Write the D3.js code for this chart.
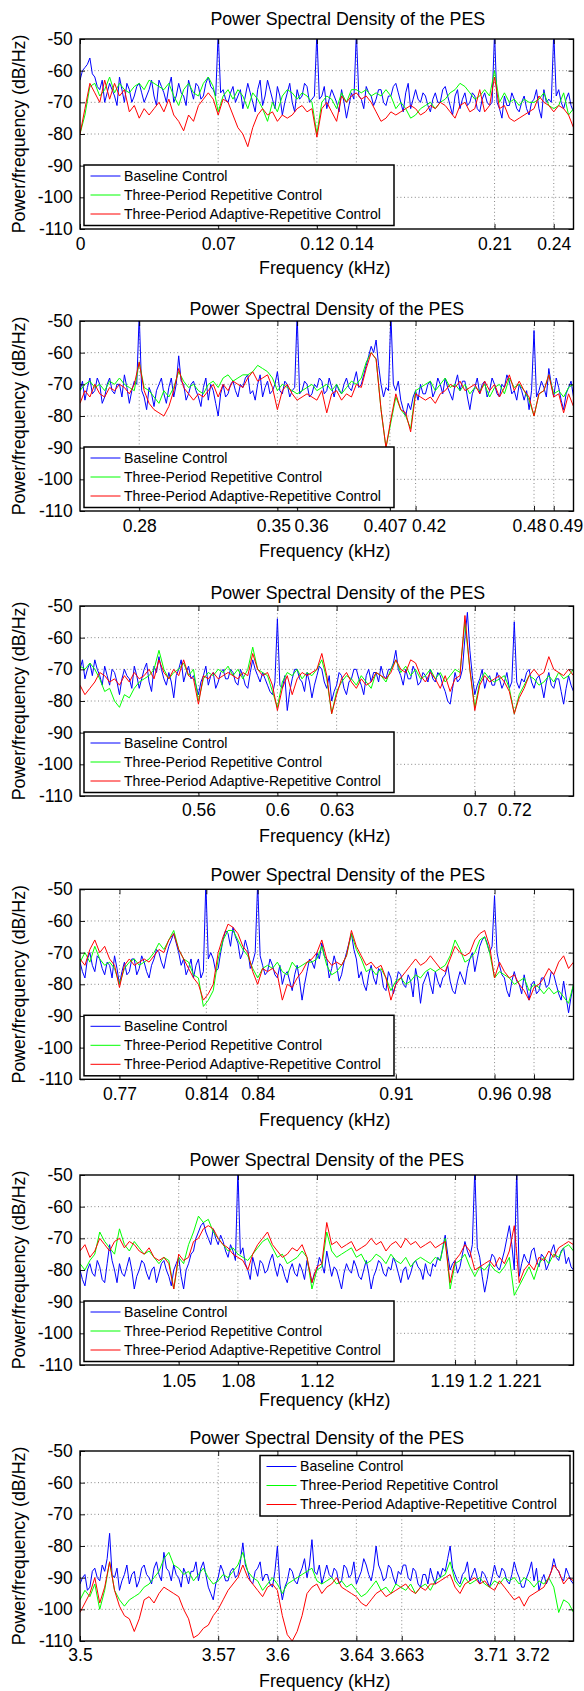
<!DOCTYPE html>
<html><head><meta charset="utf-8">
<script src="https://cdn.jsdelivr.net/npm/d3@7"></script>
<style>
body{margin:0;background:#fff}
svg{display:block}
text{font-family:"Liberation Sans",Arial,Helvetica,sans-serif;fill:#000}
</style>
</head><body>
<svg id="chart" width="584" height="1691"></svg>
<script>
// ---------------- DATA ----------------
const titleText = "Power Spectral Density of the PES";
const xLabelText = "Frequency (kHz)";
const yLabelText = "Power/frequency (dB/Hz)";
const seriesNames = ["Baseline Control", "Three-Period Repetitive Control", "Three-Period Adaptive-Repetitive Control"];
const baselineBinWidth = 0.00125; // kHz between baseline samples
const binWidth = 0.0025;          // kHz between repetitive / adaptive samples
const panelSpan = 0.25;           // kHz per panel
const panelStarts = [0, 0.25, 0.5, 0.75, 1.0, 3.5];
const yTicks = [-50, -60, -70, -80, -90, -100, -110];

const xTicks1 = [0, 0.07, 0.12, 0.14, 0.21, 0.24];
const xTickLabels1 = ["0", "0.07", "0.12", "0.14", "0.21", "0.24"];
const xTicks2 = [0.28, 0.35, 0.36, 0.407, 0.42, 0.48, 0.49];
const xTickLabels2 = ["0.28", "0.35", "0.36", "0.407", "0.42", "0.48", "0.49"];
const xTicks3 = [0.56, 0.6, 0.63, 0.7, 0.72];
const xTickLabels3 = ["0.56", "0.6", "0.63", "0.7", "0.72"];
const xTicks4 = [0.77, 0.814, 0.84, 0.91, 0.96, 0.98];
const xTickLabels4 = ["0.77", "0.814", "0.84", "0.91", "0.96", "0.98"];
const xTicks5 = [1.05, 1.08, 1.12, 1.19, 1.2, 1.221];
const xTickLabels5 = ["1.05", "1.08", "1.12", "1.19", "1.2", "1.221"];
const xTicks6 = [3.5, 3.57, 3.6, 3.64, 3.663, 3.71, 3.72];
const xTickLabels6 = ["3.5", "3.57", "3.6", "3.64", "3.663", "3.71", "3.72"];

// Panel 1: 0 - 0.25 kHz
const baseline1 = [-63,-60,-59,-58,-56,-61,-62,-65,-66,-63,-70,-67,-64,-66,-68,-71,-62,-66,-70,-64,
 -66,-70,-68,-65,-64,-67,-70,-68,-66,-63,-68,-71,-63,-65,-67,-70,-65,-62,-70,-68,
 -64,-67,-68,-71,-63,-66,-69,-64,-65,-69,-68,-64,-62,-65,-66,-68,-48,-67,-66,-69,
 -70,-67,-65,-70,-68,-66,-72,-68,-64,-67,-70,-73,-66,-63,-71,-68,-63,-66,-69,-72,
 -65,-68,-74,-70,-67,-64,-70,-73,-66,-69,-68,-64,-65,-70,-69,-68,-48,-69,-68,-65,
 -72,-69,-66,-68,-70,-73,-66,-70,-75,-71,-67,-69,-48,-68,-69,-72,-65,-67,-68,-71,
 -69,-66,-66,-70,-71,-68,-68,-65,-64,-67,-70,-73,-67,-64,-72,-69,-66,-69,-70,-67,
 -68,-71,-73,-69,-67,-70,-70,-66,-65,-68,-71,-74,-68,-66,-72,-69,-67,-71,-70,-67,
 -68,-72,-73,-69,-67,-70,-71,-70,-48,-70,-72,-75,-68,-71,-71,-67,-69,-72,-73,-70,
 -68,-72,-74,-70,-69,-66,-72,-75,-66,-70,-69,-70,-48,-68,-66,-70,-72,-69,-67,-71,
 -73];
const repetitive1 = [-80,-74,-65,-64,-68,-66,-62,-67,-64,-66,
 -67,-65,-64,-66,-63,-64,-65,-66,-64,-68,
 -71,-66,-64,-67,-68,-64,-62,-65,-73,-68,
 -66,-69,-66,-68,-72,-67,-69,-72,-76,-70,
 -73,-68,-66,-67,-69,-67,-68,-70,-80,-70,
 -68,-69,-72,-67,-70,-66,-66,-67,-66,-68,
 -67,-68,-66,-68,-72,-70,-72,-75,-74,-72,
 -71,-70,-72,-70,-69,-67,-66,-64,-65,-67,
 -69,-68,-66,-68,-60,-70,-67,-70,-69,-71,
 -69,-70,-70,-69,-67,-71,-72,-71,-67,-74,
 -72];
const adaptive1 = [-80,-72,-64,-67,-70,-63,-69,-64,-68,-66,
 -73,-71,-75,-72,-74,-72,-70,-73,-69,-74,
 -76,-79,-74,-76,-71,-69,-67,-69,-74,-69,
 -70,-74,-78,-80,-84,-78,-74,-72,-74,-73,
 -76,-74,-75,-74,-72,-71,-73,-72,-81,-72,
 -70,-73,-76,-68,-70,-68,-67,-69,-68,-70,
 -73,-76,-75,-73,-74,-73,-72,-71,-72,-74,
 -73,-71,-72,-70,-71,-73,-75,-71,-70,-73,
 -72,-66,-73,-71,-62,-72,-71,-75,-76,-75,
 -74,-73,-72,-68,-70,-71,-73,-71,-72,-74,
 -78];

// Panel 2: 0.25 - 0.50 kHz
const baseline2 = [-72,-69,-75,-71,-68,-73,-72,-68,-70,-76,-74,-70,-68,-72,-73,-70,-70,-74,-67,-71,
 -76,-72,-69,-70,-48,-72,-74,-78,-71,-73,-77,-72,-70,-68,-73,-76,-71,-68,-74,-70,
 -61,-69,-70,-75,-73,-70,-69,-72,-74,-77,-71,-68,-75,-70,-72,-76,-80,-73,-70,-74,
 -73,-70,-69,-72,-74,-70,-71,-68,-67,-73,-72,-75,-70,-67,-74,-71,-69,-73,-72,-70,
 -66,-72,-73,-69,-70,-74,-72,-71,-48,-73,-72,-69,-70,-74,-73,-70,-71,-68,-69,-73,
 -72,-68,-71,-74,-70,-72,-73,-70,-68,-71,-72,-69,-66,-71,-70,-67,-64,-61,-58,-60,
 -56,-64,-70,-74,-71,-72,-48,-70,-72,-69,-75,-78,-80,-76,-78,-74,-72,-75,-70,-73,
 -73,-70,-69,-74,-72,-68,-70,-73,-68,-71,-73,-75,-70,-67,-72,-69,-69,-74,-78,-73,
 -71,-68,-73,-70,-69,-74,-72,-68,-70,-73,-74,-70,-71,-67,-69,-73,-72,-75,-70,-72,
 -75,-72,-78,-72,-53,-74,-72,-69,-71,-74,-65,-70,-74,-68,-71,-75,-78,-73,-71,-69,
 -74];
const repetitive2 = [-72,-70,-69,-71,-70,-72,-69,-70,-68,-70,
 -71,-72,-63,-71,-72,-74,-76,-72,-74,-71,
 -66,-69,-71,-70,-72,-73,-70,-69,-71,-68,
 -67,-69,-68,-67,-67,-66,-64,-65,-66,-68,
 -72,-70,-71,-72,-73,-72,-71,-70,-72,-71,
 -70,-72,-70,-73,-71,-69,-70,-68,-63,-60,
 -62,-78,-90,-82,-74,-78,-80,-84,-72,-71,
 -70,-69,-72,-70,-68,-71,-70,-72,-70,-73,
 -71,-72,-70,-74,-71,-70,-73,-68,-71,-70,
 -72,-75,-80,-73,-72,-67,-73,-72,-74,-71,
 -70];
const adaptive2 = [-76,-72,-74,-70,-73,-74,-71,-72,-70,-71,
 -73,-70,-63,-72,-76,-78,-79,-80,-77,-72,
 -65,-71,-73,-75,-73,-74,-72,-70,-74,-70,
 -72,-69,-70,-71,-68,-66,-69,-68,-67,-71,
 -78,-72,-70,-73,-75,-74,-73,-74,-75,-72,
 -79,-73,-72,-75,-73,-74,-70,-71,-65,-60,
 -62,-78,-90,-81,-73,-78,-79,-85,-73,-74,
 -75,-74,-76,-73,-72,-70,-71,-69,-72,-71,
 -70,-73,-69,-72,-70,-74,-71,-67,-72,-69,
 -72,-74,-80,-73,-72,-67,-74,-73,-79,-73,
 -77];

// Panel 3: 0.50 - 0.75 kHz
const baseline3 = [-70,-67,-73,-70,-68,-72,-67,-70,-72,-75,-69,-72,-75,-70,-71,-74,-78,-73,-70,-72,
 -73,-76,-69,-72,-76,-73,-70,-68,-74,-77,-69,-71,-66,-70,-73,-75,-71,-74,-79,-72,
 -70,-67,-74,-71,-69,-73,-72,-75,-78,-74,-72,-69,-75,-72,-71,-76,-74,-71,-70,-73,
 -73,-70,-71,-74,-75,-70,-72,-75,-76,-71,-67,-70,-72,-74,-71,-73,-75,-77,-78,-74,
 -54,-75,-76,-72,-83,-77,-73,-70,-70,-73,-74,-77,-71,-74,-79,-75,-72,-69,-70,-74,
 -76,-72,-80,-77,-75,-71,-72,-76,-78,-74,-73,-70,-70,-73,-75,-78,-72,-70,-74,-71,
 -71,-74,-69,-72,-73,-70,-70,-68,-64,-70,-72,-75,-70,-73,-73,-69,-71,-75,-74,-71,
 -72,-74,-70,-73,-74,-71,-72,-75,-77,-80,-81,-76,-71,-74,-73,-70,-60,-52,-64,-72,
 -78,-75,-73,-70,-76,-73,-72,-75,-75,-71,-73,-76,-74,-71,-76,-74,-55,-74,-76,-73,
 -74,-71,-70,-74,-76,-73,-72,-75,-79,-74,-71,-75,-76,-73,-73,-77,-81,-76,-72,-75,
 -77];
const repetitive3 = [-69,-70,-68,-70,-73,-77,-76,-80,-82,-78,
 -79,-76,-74,-73,-72,-70,-64,-70,-73,-71,
 -70,-68,-72,-70,-80,-73,-71,-72,-70,-71,
 -69,-72,-70,-73,-70,-63,-70,-71,-72,-77,
 -82,-74,-71,-72,-70,-73,-71,-72,-70,-67,
 -73,-84,-77,-74,-72,-73,-75,-72,-74,-76,
 -71,-72,-74,-70,-67,-71,-69,-72,-70,-73,
 -72,-70,-73,-71,-74,-72,-70,-71,-55,-70,
 -82,-74,-71,-73,-74,-73,-72,-76,-84,-78,
 -75,-72,-73,-75,-74,-72,-74,-71,-73,-72,
 -70];
const adaptive3 = [-75,-78,-76,-74,-71,-72,-74,-73,-75,-72,
 -74,-71,-73,-72,-70,-73,-67,-71,-73,-70,
 -72,-67,-72,-73,-81,-72,-73,-71,-73,-72,
 -71,-72,-73,-71,-72,-65,-70,-72,-71,-75,
 -83,-76,-72,-78,-73,-71,-72,-71,-70,-65,
 -72,-84,-78,-73,-71,-74,-76,-73,-75,-74,
 -71,-72,-73,-71,-67,-70,-71,-67,-68,-72,
 -74,-71,-73,-76,-72,-77,-73,-72,-53,-70,
 -83,-75,-72,-74,-73,-72,-74,-77,-84,-79,
 -76,-72,-70,-72,-71,-66,-70,-71,-72,-70,
 -72];

// Panel 4: 0.75 - 1.00 kHz
const baseline4 = [-73,-76,-78,-72,-70,-74,-76,-71,-72,-75,-77,-73,-74,-78,-71,-75,-80,-76,-73,-77,
 -76,-72,-72,-77,-75,-71,-73,-76,-78,-74,-72,-69,-70,-73,-75,-71,-68,-66,-64,-67,
 -70,-74,-72,-77,-75,-72,-78,-74,-72,-78,-76,-48,-72,-70,-72,-76,-75,-70,-66,-63,
 -64,-68,-62,-65,-67,-72,-70,-66,-69,-75,-73,-70,-48,-71,-74,-77,-76,-72,-74,-77,
 -78,-74,-80,-77,-76,-79,-82,-77,-74,-79,-85,-80,-76,-72,-73,-75,-70,-72,-67,-71,
 -72,-78,-75,-71,-74,-79,-77,-73,-70,-67,-64,-69,-72,-78,-76,-80,-82,-77,-74,-78,
 -80,-75,-76,-81,-82,-76,-78,-83,-80,-76,-77,-80,-81,-77,-79,-84,-75,-79,-86,-80,
 -78,-76,-80,-83,-76,-79,-81,-78,-77,-74,-79,-82,-83,-79,-76,-78,-80,-75,-72,-70,
 -76,-72,-68,-66,-65,-67,-70,-68,-52,-70,-74,-77,-78,-82,-84,-79,-76,-79,-80,-83,
 -77,-81,-85,-80,-79,-83,-82,-78,-78,-81,-80,-76,-77,-80,-83,-85,-79,-84,-89,-84,
 -80];
const repetitive4 = [-73,-70,-73,-68,-72,-74,-73,-75,-80,-75,
 -73,-72,-74,-73,-72,-70,-67,-69,-66,-63,
 -69,-72,-73,-77,-78,-87,-85,-82,-72,-66,
 -63,-63,-66,-69,-71,-75,-78,-75,-74,-75,
 -73,-76,-77,-73,-75,-74,-73,-73,-72,-68,
 -74,-77,-76,-74,-71,-64,-69,-72,-76,-75,
 -77,-75,-78,-82,-79,-78,-80,-79,-77,-78,
 -76,-75,-76,-75,-74,-71,-66,-69,-73,-72,
 -70,-66,-65,-70,-78,-76,-77,-78,-80,-79,
 -78,-82,-80,-81,-83,-81,-83,-82,-84,-86,
 -80];
const adaptive4 = [-72,-74,-69,-66,-70,-68,-72,-74,-81,-74,
 -72,-74,-73,-72,-73,-71,-69,-70,-66,-64,
 -69,-72,-75,-78,-80,-85,-83,-80,-70,-65,
 -61,-62,-64,-68,-70,-76,-80,-75,-76,-75,
 -77,-85,-80,-81,-78,-76,-73,-72,-70,-66,
 -72,-74,-73,-74,-71,-63,-68,-71,-74,-73,
 -75,-74,-78,-85,-80,-78,-76,-74,-72,-74,
 -73,-71,-73,-75,-76,-72,-68,-70,-71,-70,
 -66,-64,-63,-68,-78,-73,-76,-78,-77,-80,
 -82,-85,-81,-80,-78,-75,-77,-73,-71,-75,
 -73];

// Panel 5: 1.00 - 1.25 kHz
const baseline5 = [-80,-83,-85,-80,-78,-81,-82,-77,-79,-83,-84,-78,-72,-77,-80,-84,-78,-81,-82,-79,
 -76,-80,-86,-82,-80,-77,-78,-81,-83,-80,-79,-84,-81,-78,-77,-80,-82,-85,-80,-78,
 -76,-82,-86,-80,-78,-75,-74,-70,-68,-66,-65,-68,-70,-72,-67,-70,-72,-69,-71,-74,
 -76,-72,-74,-77,-48,-75,-73,-78,-80,-83,-76,-79,-82,-77,-78,-81,-80,-77,-75,-79,
 -82,-78,-79,-82,-84,-80,-78,-81,-82,-78,-80,-83,-77,-80,-84,-81,-80,-76,-78,-81,
 -74,-78,-82,-79,-80,-83,-86,-81,-78,-80,-81,-77,-79,-82,-83,-80,-77,-81,-86,-82,
 -80,-77,-78,-81,-82,-79,-80,-76,-78,-81,-84,-80,-79,-83,-81,-78,-77,-79,-80,-83,
 -78,-81,-82,-78,-79,-76,-77,-73,-69,-75,-80,-78,-77,-81,-79,-75,-71,-74,-76,-72,
 -48,-73,-76,-82,-87,-83,-78,-75,-76,-79,-80,-77,-74,-70,-66,-72,-80,-48,-82,-78,
 -75,-77,-78,-74,-73,-77,-79,-75,-76,-80,-78,-74,-72,-76,-77,-74,-73,-78,-76,-79,
 -80];
const repetitive5 = [-78,-80,-77,-75,-68,-71,-73,-75,-67,-72,
 -74,-71,-73,-75,-74,-76,-78,-76,-77,-86,
 -76,-78,-72,-68,-63,-65,-64,-68,-70,-72,
 -74,-73,-75,-76,-77,-75,-73,-71,-70,-73,
 -76,-75,-78,-77,-76,-74,-76,-86,-80,-79,
 -68,-74,-76,-75,-74,-73,-76,-75,-78,-77,
 -75,-76,-78,-75,-77,-78,-76,-79,-77,-76,
 -77,-78,-76,-77,-70,-86,-78,-77,-75,-79,
 -82,-79,-80,-78,-80,-81,-79,-76,-88,-85,
 -82,-79,-83,-78,-76,-78,-75,-76,-73,-72,
 -74];
const adaptive5 = [-74,-72,-76,-74,-70,-72,-74,-71,-70,-73,
 -71,-72,-74,-75,-73,-76,-77,-76,-78,-86,
 -75,-77,-76,-71,-70,-67,-66,-67,-70,-72,
 -73,-75,-76,-77,-80,-75,-72,-70,-68,-72,
 -74,-76,-75,-73,-74,-72,-76,-84,-79,-78,
 -65,-72,-71,-73,-72,-71,-74,-73,-72,-70,
 -72,-71,-74,-72,-71,-73,-70,-72,-71,-73,
 -72,-71,-73,-72,-71,-84,-77,-75,-72,-74,
 -80,-79,-78,-77,-79,-76,-78,-74,-66,-84,
 -80,-78,-80,-76,-77,-74,-76,-73,-72,-71,
 -72];

// Panel 6: 3.50 - 3.75 kHz
const baseline6 = [-92,-90,-89,-94,-93,-88,-87,-90,-91,-86,-88,-84,-76,-89,-90,-87,-94,-91,-89,-86,
 -92,-89,-88,-93,-91,-87,-86,-89,-90,-92,-87,-85,-89,-91,-82,-87,-88,-91,-86,-89,
 -90,-93,-87,-89,-92,-88,-88,-85,-91,-87,-85,-89,-93,-95,-97,-92,-90,-86,-88,-91,
 -91,-88,-87,-90,-89,-85,-79,-86,-88,-91,-92,-88,-87,-85,-91,-89,-89,-92,-93,-88,
 -80,-92,-97,-93,-91,-87,-88,-91,-92,-89,-87,-84,-90,-86,-78,-88,-89,-86,-92,-89,
 -86,-89,-90,-87,-88,-92,-91,-86,-87,-90,-89,-85,-92,-90,-88,-84,-86,-89,-91,-87,
 -80,-86,-88,-91,-90,-86,-87,-90,-92,-88,-89,-86,-86,-90,-91,-87,-88,-92,-93,-89,
 -89,-92,-87,-90,-92,-88,-90,-87,-88,-84,-80,-87,-89,-91,-92,-89,-88,-85,-91,-89,
 -87,-90,-92,-88,-89,-91,-93,-90,-86,-89,-90,-87,-88,-91,-92,-89,-85,-88,-90,-93,
 -93,-90,-88,-85,-91,-87,-94,-91,-89,-92,-90,-88,-84,-87,-88,-90,-91,-87,-89,-91,
 -92];
const repetitive6 = [-97,-94,-96,-92,-100,-94,-85,-94,-97,-99,
 -97,-96,-95,-93,-92,-90,-88,-84,-82,-86,
 -87,-89,-88,-91,-89,-87,-90,-92,-91,-89,
 -90,-88,-86,-82,-88,-90,-91,-94,-92,-90,
 -92,-95,-92,-91,-90,-89,-88,-87,-91,-92,
 -91,-90,-92,-91,-93,-92,-94,-96,-95,-93,
 -91,-94,-93,-95,-92,-93,-94,-92,-95,-93,
 -92,-94,-91,-90,-89,-85,-91,-93,-90,-92,
 -91,-90,-92,-93,-91,-92,-90,-91,-90,-92,
 -90,-91,-93,-91,-92,-90,-93,-101,-97,-98,
 -101];
const adaptive6 = [-101,-98,-95,-90,-98,-93,-85,-94,-99,-102,
 -103,-107,-103,-97,-96,-98,-95,-93,-94,-95,
 -96,-100,-103,-109,-108,-106,-105,-102,-100,-97,
 -94,-92,-90,-86,-90,-92,-94,-96,-93,-92,
 -94,-102,-108,-110,-107,-102,-95,-93,-92,-95,
 -93,-92,-90,-93,-94,-95,-96,-98,-99,-97,
 -95,-94,-96,-95,-94,-93,-92,-94,-95,-93,
 -94,-92,-92,-91,-90,-89,-93,-95,-92,-91,
 -90,-92,-91,-93,-94,-91,-93,-95,-97,-96,
 -99,-96,-95,-94,-93,-90,-86,-88,-92,-90,
 -91];

// ---------------- ASSEMBLY ----------------
const seriesBins = [baselineBinWidth, binWidth, binWidth];
const panels = [
  {start: panelStarts[0], ticks: xTicks1, labels: xTickLabels1, series: [baseline1, repetitive1, adaptive1]},
  {start: panelStarts[1], ticks: xTicks2, labels: xTickLabels2, series: [baseline2, repetitive2, adaptive2]},
  {start: panelStarts[2], ticks: xTicks3, labels: xTickLabels3, series: [baseline3, repetitive3, adaptive3]},
  {start: panelStarts[3], ticks: xTicks4, labels: xTickLabels4, series: [baseline4, repetitive4, adaptive4]},
  {start: panelStarts[4], ticks: xTicks5, labels: xTickLabels5, series: [baseline5, repetitive5, adaptive5]},
  {start: panelStarts[5], ticks: xTicks6, labels: xTickLabels6, series: [baseline6, repetitive6, adaptive6]}
];

// ---------------- LAYOUT / STYLE ----------------
const colors = ["#0000ff", "#00ff00", "#ff0000"];
const L = 80, R = 573.5, H = 190;
const tops = [39, 321, 606, 889.3, 1175, 1451];
const titleDx = [21, 0, 21, 21, 0, 0];
const titleDy = [-20, -12.7, -13.7, -14.3, -15.7, -13.3];
const tickDy = [14.5, 14.5, 13.5, 14.5, 16, 14];
const xlabelDy = [39, 40, 39.3, 40, 35, 39.7];
// horizontal nudges of crowded tick labels (px), as in the original
const labelNudge = [
  [0, 0, 0, 0, 0, 0],
  [0, -4, 14, -5, 13, -5, 12],
  [0, 0, 0, 0, 0],
  [0, 0, 0, 0, 0, 0],
  [0, 0, 0, -8, 5, 3],
  [0, 0, 0, 0, 0, -4, 18]
];
const legendTopRight = [false, false, false, false, false, true];
const FONT = '"Liberation Sans",Arial,Helvetica,sans-serif';

const svg = d3.select("#chart");

panels.forEach((p, pi) => {
  const top = tops[pi], bottom = top + H;
  const x = d3.scaleLinear().domain([p.start, p.start + panelSpan]).range([L, R]);
  const y = d3.scaleLinear().domain([-110, -50]).range([bottom, top]);
  const g = svg.append("g");

  const clipId = "clip" + pi;
  g.append("clipPath").attr("id", clipId)
    .append("rect").attr("x", L).attr("y", top).attr("width", R - L).attr("height", H);

  // grid
  const grid = g.append("g").attr("stroke", "#6a6a6a").attr("stroke-width", 0.8)
    .attr("stroke-dasharray", "1,2.6").attr("fill", "none");
  yTicks.filter(t => t > -110 && t < -50).forEach(t => {
    grid.append("line").attr("x1", L).attr("x2", R).attr("y1", y(t)).attr("y2", y(t));
  });
  p.ticks.forEach(t => {
    const xp = x(t);
    if (xp > L + 1 && xp < R - 1)
      grid.append("line").attr("x1", xp).attr("x2", xp).attr("y1", top).attr("y2", bottom);
  });

  // lines
  const lines = g.append("g").attr("clip-path", `url(#${clipId})`);
  p.series.forEach((vals, si) => {
    const pts = vals.map((v, i) => [p.start + i * seriesBins[si], v]);
    const line = d3.line().x(d => x(d[0])).y(d => y(d[1]));
    lines.append("path").attr("d", line(pts)).attr("fill", "none")
      .attr("stroke", colors[si]).attr("stroke-width", 1).attr("stroke-linejoin", "round");
  });

  // axes
  const styleAxis = sel => {
    sel.attr("font-family", FONT).attr("font-size", 17.5);
    sel.select(".domain").remove();
    sel.selectAll(".tick line").attr("stroke", "#000").attr("stroke-width", 0.9);
    sel.selectAll(".tick text").attr("fill", "#000");
  };
  g.append("g").attr("transform", `translate(${L},0)`)
    .call(d3.axisLeft(y).tickValues(yTicks).tickFormat(d => String(d)).tickSizeInner(-5).tickSizeOuter(0).tickPadding(7.3))
    .call(styleAxis);
  g.append("g").attr("transform", `translate(${R},0)`)
    .call(d3.axisRight(y).tickValues(yTicks).tickFormat("").tickSizeInner(-5).tickSizeOuter(0))
    .call(styleAxis);
  const xb = g.append("g").attr("transform", `translate(0,${bottom})`)
    .call(d3.axisBottom(x).tickValues(p.ticks).tickFormat((d, i) => p.labels[i]).tickSizeInner(-5).tickSizeOuter(0))
    .call(styleAxis);
  xb.selectAll(".tick text").attr("y", tickDy[pi]).attr("dy", "0.35em")
    .attr("x", (d, i) => labelNudge[pi][i] || 0);
  g.append("g").attr("transform", `translate(0,${top})`)
    .call(d3.axisTop(x).tickValues(p.ticks).tickFormat("").tickSizeInner(-5).tickSizeOuter(0))
    .call(styleAxis);

  // box
  g.append("rect").attr("x", L).attr("y", top).attr("width", R - L).attr("height", H)
    .attr("fill", "none").attr("stroke", "#000").attr("stroke-width", 1.4);

  // legend
  const lw = 310, lh = 60.5;
  const lx = legendTopRight[pi] ? R - 3.5 - lw : L + 4;
  const ly = legendTopRight[pi] ? top + 4.5 : bottom - 3.5 - lh;
  const lg = g.append("g").attr("transform", `translate(${lx},${ly})`);
  lg.append("rect").attr("width", lw).attr("height", lh).attr("fill", "#fff")
    .attr("stroke", "#000").attr("stroke-width", 1.5);
  seriesNames.forEach((name, si) => {
    const ry = 11 + si * 19;
    lg.append("line").attr("x1", 6.5).attr("x2", 36.5).attr("y1", ry).attr("y2", ry)
      .attr("stroke", colors[si]).attr("stroke-width", 1);
    lg.append("text").attr("x", 40).attr("y", ry).attr("dy", "0.35em")
      .attr("font-size", 14.1).text(name);
  });

  // title
  g.append("text").attr("x", (L + R) / 2 + titleDx[pi]).attr("y", top + titleDy[pi])
    .attr("dy", "0.35em").attr("text-anchor", "middle").attr("font-size", 17.8).text(titleText);
  // x label
  g.append("text").attr("x", (L + R) / 2 - 2).attr("y", bottom + xlabelDy[pi])
    .attr("dy", "0.35em").attr("text-anchor", "middle").attr("font-size", 17.8).text(xLabelText);
  // y label
  g.append("text").attr("transform", `translate(18.5,${top + H / 2}) rotate(-90)`)
    .attr("dy", "0.35em").attr("text-anchor", "middle").attr("font-size", 17.8).text(yLabelText);
});
</script>
</body></html>
